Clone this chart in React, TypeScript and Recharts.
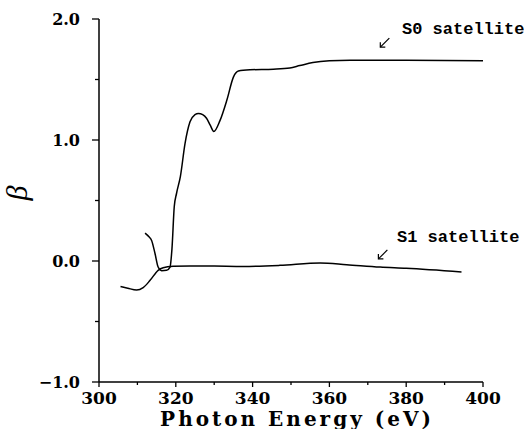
import React from "react";
import { LineChart, Line, XAxis, YAxis, ReferenceDot } from "recharts";

const s0Energy = [312.0, 313.0, 313.7, 314.6, 315.4, 316.3, 317.6, 318.5, 319.0, 319.6, 320.2, 321.2, 322.4, 323.7, 325.0, 325.9, 327.0, 328.0, 329.0, 329.9, 331.5, 333.3, 335.0, 336.3, 339.3, 345.4, 349.7, 352.3, 355.7, 360.0, 365.4, 380.0, 400.0];
const s0Beta = [0.23, 0.2, 0.17, 0.06, -0.05, -0.08, -0.077, -0.05, 0.1, 0.45, 0.56, 0.7, 0.97, 1.15, 1.21, 1.22, 1.21, 1.18, 1.12, 1.07, 1.16, 1.33, 1.52, 1.57, 1.58, 1.585, 1.595, 1.615, 1.64, 1.655, 1.66, 1.66, 1.655];

const s1Energy = [305.6, 307.5, 309.8, 311.5, 313.3, 315.4, 316.7, 319.3, 323.7, 330.0, 337.6, 347.1, 357.6, 364.5, 373.2, 380.0, 394.4];
const s1Beta = [-0.21, -0.225, -0.24, -0.22, -0.16, -0.077, -0.055, -0.044, -0.041, -0.042, -0.045, -0.036, -0.016, -0.03, -0.05, -0.06, -0.09];

const xTicks = [300, 310, 320, 330, 340, 350, 360, 370, 380, 390, 400];
const yTicks = [-1, -0.5, 0, 0.5, 1, 1.5, 2];

const annotations = [
  { label: "S0 satellite", textE: 378.9, textB: 1.88, arrowE: 374.3, arrowB: 1.8 },
  { label: "S1 satellite", textE: 377.6, textB: 0.155, arrowE: 373.8, arrowB: 0.05 },
];

const s0Data = s0Energy.map((e, i) => ({ e, b: s0Beta[i] }));
const s1Data = s1Energy.map((e, i) => ({ e, b: s1Beta[i] }));

const XTick = (props: any) => {
  const { x, y, payload } = props;
  const v = payload.value;
  const major = v % 20 === 0;
  return (
    <g>
      <line x1={x} y1={y} x2={x} y2={y + (major ? 5 : 3)} stroke="#000" strokeWidth={1.3} />
      {major && (
        <text x={x} y={y + 22} textAnchor="middle" fontFamily="'DejaVu Serif', serif" fontWeight="bold" fontSize={17} fill="#000">
          {v}
        </text>
      )}
    </g>
  );
};

const YTick = (props: any) => {
  const { x, y, payload } = props;
  const v = payload.value;
  const major = Number.isInteger(v);
  const txt = v < 0 ? "\u2212" + Math.abs(v).toFixed(1) : v.toFixed(1);
  return (
    <g>
      <line x1={x - (major ? 7 : 4)} y1={y} x2={x} y2={y} stroke="#000" strokeWidth={1.3} />
      {major && (
        <text x={x - 19} y={y} dy="0.36em" textAnchor="end" fontFamily="'DejaVu Serif', serif" fontWeight="bold" fontSize={16} fill="#000">
          {txt}
        </text>
      )}
    </g>
  );
};

const AnnText = (label: string) => (p: any) => (
  <text x={p.cx} y={p.cy} fontFamily="'Liberation Mono', monospace" fontWeight="bold" fontSize={17} fill="#000">
    {label}
  </text>
);

const Arrow = (p: any) => {
  const { cx, cy } = p;
  return (
    <g stroke="#000" strokeWidth={1.2} fill="none">
      <line x1={cx + 5} y1={cy - 5} x2={cx - 4} y2={cy + 4} />
      <polyline points={`${cx - 4},${cy - 1} ${cx - 4},${cy + 4} ${cx + 1},${cy + 4}`} />
    </g>
  );
};

export default function App() {
  return (
    <div style={{ position: "absolute", left: 0, top: 0, background: "#fff" }}>
      <LineChart width={524} height={429} margin={{ top: 19, right: 41, bottom: 0, left: 0 }}>
        <XAxis
          dataKey="e"
          type="number"
          domain={[300, 400]}
          ticks={xTicks}
          interval={0}
          allowDataOverflow
          height={47}
          tickSize={0}
          tickMargin={0}
          tick={<XTick />}
          axisLine={{ stroke: "#000", strokeWidth: 1.5 }}
          label={{
            value: "Photon Energy (eV)",
            position: "insideBottom",
            offset: 3,
            dx: 6,
            fontFamily: "'DejaVu Serif', serif",
            fontWeight: "bold",
            fontSize: 20,
            letterSpacing: 3,
            fill: "#000",
          }}
        />
        <YAxis
          dataKey="b"
          type="number"
          domain={[-1, 2]}
          ticks={yTicks}
          interval={0}
          allowDataOverflow
          width={99}
          tickSize={0}
          tickMargin={0}
          tick={<YTick />}
          axisLine={{ stroke: "#000", strokeWidth: 1.5 }}
          label={{
            value: "β",
            angle: -90,
            position: "insideLeft",
            offset: 16,
            fontFamily: "'Liberation Serif', serif",
            fontStyle: "italic",
            fontSize: 30,
            fill: "#000",
          }}
        />
        <Line data={s0Data} dataKey="b" type="monotone" stroke="#000" strokeWidth={1.5} dot={false} isAnimationActive={false} />
        <Line data={s1Data} dataKey="b" type="monotone" stroke="#000" strokeWidth={1.5} dot={false} isAnimationActive={false} />
        {annotations.map((a) => (
          <ReferenceDot key={a.label + "t"} x={a.textE} y={a.textB} r={0} ifOverflow="visible" shape={AnnText(a.label)} />
        ))}
        {annotations.map((a) => (
          <ReferenceDot key={a.label + "a"} x={a.arrowE} y={a.arrowB} r={0} ifOverflow="visible" shape={Arrow} />
        ))}
      </LineChart>
    </div>
  );
}
